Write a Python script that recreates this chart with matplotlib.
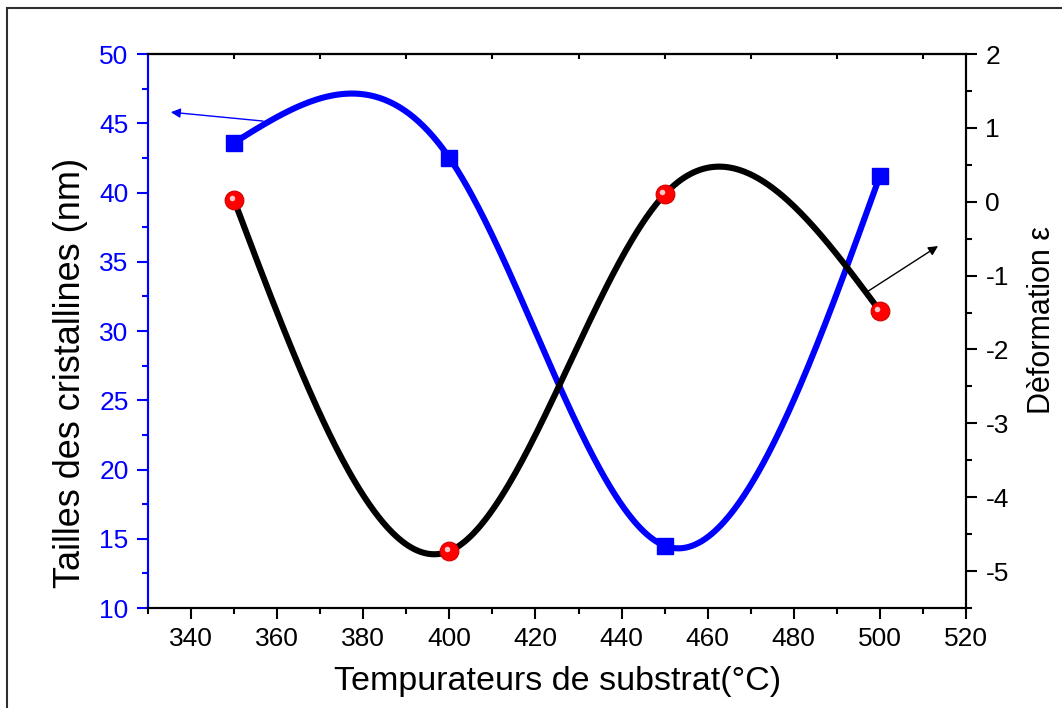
import numpy as np
import matplotlib
matplotlib.use("Agg")
import matplotlib.pyplot as plt
from matplotlib.ticker import MultipleLocator
from matplotlib.patches import Rectangle
import matplotlib.transforms as mtransforms

plt.rcParams['font.family'] = ['Liberation Sans', 'DejaVu Sans']
plt.rcParams['axes.unicode_minus'] = False

# Data
temperatures = [350, 400, 450, 500]
tailles = [43.6, 42.5, 14.5, 41.2]          # crystallite size (nm)
deformation = [0.02, -4.73, 0.10, -1.48]    # strain

x_ticks = [340, 360, 380, 400, 420, 440, 460, 480, 500, 520]
left_ticks = [10, 15, 20, 25, 30, 35, 40, 45, 50]
right_ticks = [-5, -4, -3, -2, -1, 0, 1, 2]


def natural_spline(x, y, n=400):
    x = np.asarray(x, float)
    y = np.asarray(y, float)
    k = len(x)
    h = np.diff(x)
    A = np.zeros((k, k))
    b = np.zeros(k)
    A[0, 0] = 1
    A[-1, -1] = 1
    for i in range(1, k - 1):
        A[i, i - 1] = h[i - 1]
        A[i, i] = 2 * (h[i - 1] + h[i])
        A[i, i + 1] = h[i]
        b[i] = 6 * ((y[i + 1] - y[i]) / h[i] - (y[i] - y[i - 1]) / h[i - 1])
    M = np.linalg.solve(A, b)
    xs = np.linspace(x[0], x[-1], n)
    ys = np.empty_like(xs)
    for j, xv in enumerate(xs):
        i = min(np.searchsorted(x, xv, side='right') - 1, k - 2)
        t0 = x[i + 1] - xv
        t1 = xv - x[i]
        hi = h[i]
        ys[j] = (M[i] * t0 ** 3 / (6 * hi) + M[i + 1] * t1 ** 3 / (6 * hi)
                 + (y[i] / hi - M[i] * hi / 6) * t0
                 + (y[i + 1] / hi - M[i + 1] * hi / 6) * t1)
    return xs, ys


fig = plt.figure(figsize=(10.62, 7.08), dpi=100)
ax = fig.add_axes([0.1394, 0.1412, 0.7702, 0.7825])
ax2 = ax.twinx()

blue = '#0000ff'

# Blue series (left axis)
xs, ys = natural_spline(temperatures, tailles)
ax.plot(xs, ys, color=blue, lw=4.4, solid_capstyle='butt')
ax.plot(temperatures, tailles, 's', color=blue, ms=11.5, mec=blue)

# Black series (right axis)
xs2, ys2 = natural_spline(temperatures, deformation)
ax2.plot(xs2, ys2, color='black', lw=4.4, solid_capstyle='butt')
ax2.plot(temperatures, deformation, 'o', color='#ff0000', mec='#d00000',
         mew=0.8, ms=13.5)
hl = mtransforms.offset_copy(ax2.transData, fig=fig, x=-2.5, y=2.5,
                             units='dots')
ax2.plot(temperatures, deformation, 'o', color='#ffc8c8', mec='none', ms=4,
         transform=hl)

# Axis limits
ax.set_xlim(330, 520)
ax.set_ylim(10, 50)
ax2.set_ylim(-5.5, 2)

ax.set_xticks(x_ticks)
ax.xaxis.set_minor_locator(MultipleLocator(10))
ax.set_yticks(left_ticks)
ax.yaxis.set_minor_locator(MultipleLocator(2.5))
ax2.set_yticks(right_ticks)
ax2.yaxis.set_minor_locator(MultipleLocator(0.5))

tick_fs = 19
ax.tick_params(axis='x', which='major', direction='out', length=8, width=1.5,
               labelsize=tick_fs, pad=6, top=False)
ax.tick_params(axis='x', which='minor', direction='out', length=4, width=1.5,
               top=False)
ax.tick_params(axis='y', which='major', direction='out', length=8, width=1.5,
               labelsize=tick_fs, colors=blue, pad=6)
ax.tick_params(axis='y', which='minor', direction='out', length=4, width=1.5,
               colors=blue)
ax2.tick_params(axis='y', which='major', direction='out', length=8, width=1.5,
                labelsize=tick_fs, pad=6)
ax2.tick_params(axis='y', which='minor', direction='out', length=4, width=1.5)

# Top inward small ticks
secx = ax.secondary_xaxis('top')
secx.set_xticks([350, 370, 390, 410, 430, 450, 470, 490, 510])
secx.tick_params(direction='in', length=3.5, width=1.5, labeltop=False)
secx.spines['top'].set_linewidth(1.5)

for side in ['top', 'bottom', 'right']:
    ax.spines[side].set_linewidth(1.5)
    ax2.spines[side].set_linewidth(1.5)
ax.spines['left'].set_color(blue)
ax.spines['left'].set_linewidth(1.5)
ax2.spines['left'].set_color(blue)
ax2.spines['left'].set_linewidth(1.5)

ax.set_xlabel('Tempurateurs de substrat(°C)', fontsize=24.5)
ax.xaxis.set_label_coords(0.501, -0.104)
ax.set_ylabel('Tailles des cristallines (nm)', fontsize=26, va='center')
ax.yaxis.set_label_coords(-0.095, 0.424)
ax2.set_ylabel('Dèformation ε', fontsize=22, va='center')
ax2.yaxis.set_label_coords(1.093, 0.52)

# Arrows
ax.annotate('', xy=(335.3, 45.8), xytext=(356.7, 45.16),
            arrowprops=dict(arrowstyle='-|>', color=blue, lw=1.0,
                            mutation_scale=14, shrinkA=0, shrinkB=0))
ax2.annotate('', xy=(513.5, -0.60), xytext=(497.0, -1.22),
             arrowprops=dict(arrowstyle='-|>', color='black', lw=1.0,
                             mutation_scale=14, shrinkA=0, shrinkB=0))

# Outer frame
fig.patches.append(Rectangle((0.0066, -0.02), 1.05, 1.0087, transform=fig.transFigure,
                             fill=False, edgecolor='#303030', lw=1.5))

fig.savefig('out.png', dpi=100)
